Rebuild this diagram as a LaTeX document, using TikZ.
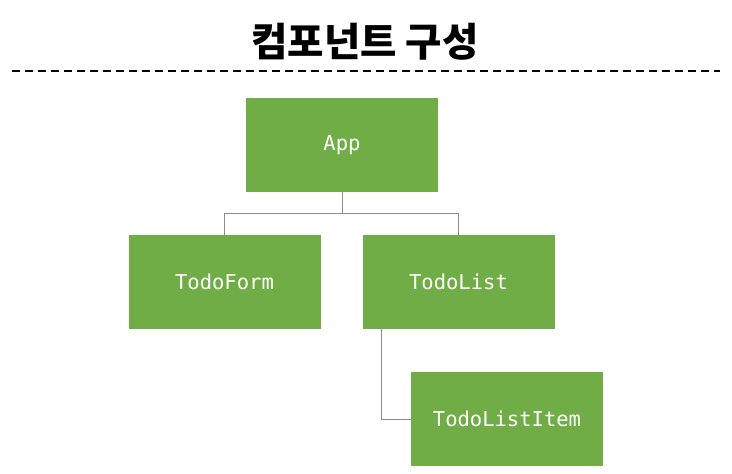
\documentclass[tikz,border=0pt]{standalone}
\usepackage{fontspec}
\newfontfamily\cjk{Noto Sans CJK KR}
\newfontfamily\codefont{DejaVu Sans Mono}
\definecolor{boxgreen}{HTML}{70AD47}
\definecolor{linegray}{HTML}{8C8C8C}
\begin{document}
\begin{tikzpicture}[x=1pt,y=-1pt,
  comp/.style={fill=boxgreen, minimum width=192pt, minimum height=94pt, inner sep=0pt,
    text=white, font=\codefont\fontsize{20.5}{24}\selectfont},
  link/.style={draw=linegray, line width=1pt}]
\useasboundingbox (0,0) rectangle (732,474);
\node [font=\cjk\bfseries\fontsize{39.5}{46}\selectfont] (title) at (365,42) {컴포넌트 구성};
\draw [dash pattern=on 8pt off 5pt, line width=1.5pt] (12,71) coordinate (ruleL) -- (720,71) coordinate (ruleR);

\node [comp] (app) at (342,145) {App};
\node [comp] (form) at (224.5,282) {TodoForm};
\node [comp] (list) at (458.5,282) {TodoList};
\node [comp] (item) at (507,419) {TodoListItem};

\draw [link] (app.south) -- ++(0,21) coordinate (split);
\draw [link] (form.north) |- (split) -| (list.north);
\draw [link] ([xshift=19pt]list.south west) |- (item.west);

\end{tikzpicture}
\end{document}
